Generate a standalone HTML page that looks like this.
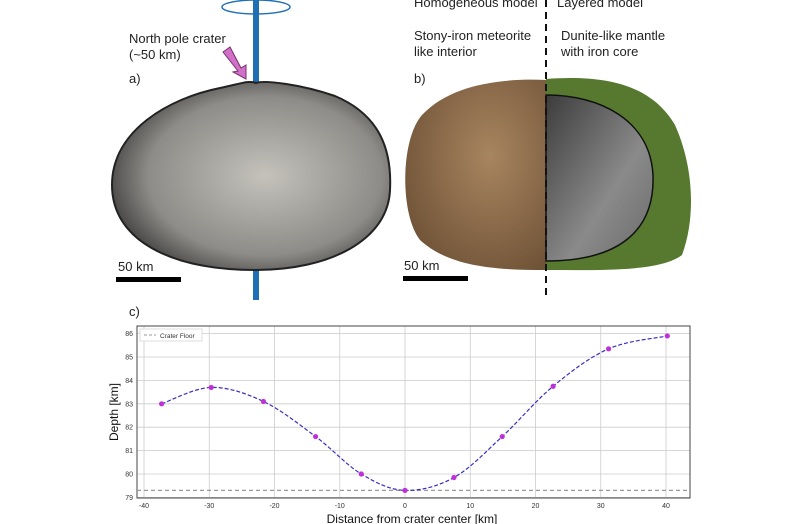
<!DOCTYPE html>
<html><head><meta charset="utf-8"><style>
body{margin:0;background:#fff;}
svg{display:block;font-family:"Liberation Sans",sans-serif;}
</style></head><body>
<svg id="fig" width="800" height="524" viewBox="0 0 800 524">
<defs>
<radialGradient id="gA" cx="0.55" cy="0.5" r="0.6"><stop offset="0" stop-color="#c4c2bb"/><stop offset="0.7" stop-color="#8e8c88"/><stop offset="1" stop-color="#3a3a3a"/></radialGradient>
<radialGradient id="gB" cx="0.6" cy="0.4" r="0.7"><stop offset="0" stop-color="#a88560"/><stop offset="1" stop-color="#6f5236"/></radialGradient>
<linearGradient id="gC" x1="0" y1="0" x2="1" y2="1"><stop offset="0" stop-color="#3c3c3c"/><stop offset="0.6" stop-color="#8a8a8a"/><stop offset="1" stop-color="#6a6a6a"/></linearGradient>
</defs>
<g>
<rect x="253" y="0" width="6" height="300" fill="#1f6fb5"/>
<path d="M112,185 C112,130 170,98 220,88 C240,84 248,80 256,83 C264,80 300,84 335,96 C380,115 392,150 390,190 C388,240 330,270 256,270 C170,270 112,240 112,185 Z" fill="url(#gA)" stroke="#222" stroke-width="2"/>
<ellipse cx="256" cy="7" rx="34" ry="7" fill="none" stroke="#1f6fb5" stroke-width="1.5"/>
<polygon points="223,52 230,47 241,68 246,65 246,79 233,72 238,71" fill="#d070c8" stroke="#7a3070" stroke-width="1"/>
<text x="129" y="43" font-size="13" fill="#222">North pole crater</text>
<text x="129" y="59" font-size="13" fill="#222">(~50 km)</text>
<text x="129" y="83" font-size="13" fill="#222">a)</text>
<text x="118" y="271" font-size="13" fill="#222">50 km</text>
<rect x="116" y="277" width="65" height="5" fill="#000"/>
</g>
<g>
<path d="M546,80 C500,78 450,85 422,115 C400,140 400,215 420,240 C450,268 500,270 546,270 Z" fill="url(#gB)"/>
<path d="M546,79 C600,75 650,82 675,125 C695,170 695,220 682,255 C660,272 600,270 546,270 Z" fill="#56792f"/>
<path d="M546,95 C600,95 650,120 653,175 C655,230 620,261 546,261 Z" fill="url(#gC)" stroke="#111" stroke-width="1.5"/>
<line x1="546" y1="0" x2="546" y2="300" stroke="#111" stroke-width="2" stroke-dasharray="7,5"/>
<text x="414" y="7" font-size="13" fill="#222">Homogeneous model</text>
<text x="557" y="7" font-size="13" fill="#222">Layered model</text>
<text x="414" y="40" font-size="13" fill="#222">Stony-iron meteorite</text>
<text x="414" y="56" font-size="13" fill="#222">like interior</text>
<text x="561" y="40" font-size="13" fill="#222">Dunite-like mantle</text>
<text x="561" y="56" font-size="13" fill="#222">with iron core</text>
<text x="414" y="83" font-size="13" fill="#222">b)</text>
<text x="404" y="270" font-size="13" fill="#222">50 km</text>
<rect x="403" y="276" width="65" height="5" fill="#000"/>
</g>
<text x="129" y="316" font-size="13" fill="#222">c)</text>
<g id="chart"></g>
</svg>
<script>
const xTicks=[-40,-30,-20,-10,0,10,20,30,40];
const yTicks=[79,80,81,82,83,84,85,86];
const distances=[-37.3,-29.7,-21.7,-13.7,-6.7,0,7.5,14.9,22.7,31.2,40.2];
const depths=[83.0,83.7,83.1,81.6,80.0,79.3,79.85,81.6,83.75,85.35,85.9];
const craterFloor=79.3;
const NS='http://www.w3.org/2000/svg';
const L=137,R=690,T=326,B=498;
const sx=v=>405+v*6.525;
const sy=v=>474-(v-80)*23.4;
const g=document.getElementById('chart');
function mk(t,a,p){const e=document.createElementNS(NS,t);for(const k in a)e.setAttribute(k,a[k]);(p||g).appendChild(e);return e;}
xTicks.forEach(v=>{
const l=mk('line',{x1:sx(v),x2:sx(v),y1:T,y2:B,stroke:'#ccc','stroke-width':0.8});


const t=mk('text',{x:sx(v),y:B+10,'font-size':7,'text-anchor':'middle',fill:'#333'});t.textContent=v;


});
yTicks.forEach(v=>{
const l=mk('line',{x1:L,x2:R,y1:sy(v),y2:sy(v),stroke:'#ccc','stroke-width':0.8});


const t=mk('text',{x:L-4,y:sy(v)+2.5,'font-size':7,'text-anchor':'end',fill:'#333'});t.textContent=v;


});
const fr=mk('rect',{x:L,y:T,width:R-L,height:B-T,fill:'none',stroke:'#444','stroke-width':1});


const fl=mk('line',{x1:L,x2:R,y1:sy(craterFloor),y2:sy(craterFloor),stroke:'#999','stroke-width':1.2,'stroke-dasharray':'4,3'});


const P=distances.map((d,i)=>[sx(d),sy(depths[i])]);
let d='M'+P[0][0]+','+P[0][1];
for(let i=0;i<P.length-1;i++){const p0=P[i-1]||P[i],p1=P[i],p2=P[i+1],p3=P[i+2]||P[i+1];
d+=' C'+(p1[0]+(p2[0]-p0[0])/6)+','+(p1[1]+(p2[1]-p0[1])/6)+' '+(p2[0]-(p3[0]-p1[0])/6)+','+(p2[1]-(p3[1]-p1[1])/6)+' '+p2[0]+','+p2[1];}
const cv=mk('path',{d:d,fill:'none',stroke:'#3a2fc0','stroke-width':1.2,'stroke-dasharray':'4,2'});


P.forEach(p=>{const c=mk('circle',{cx:p[0],cy:p[1],r:2.6,fill:'#c030d8'});

});
const lg=mk('rect',{x:140,y:329,width:62,height:12,fill:'#fff',stroke:'#ddd'});


const ll=mk('line',{x1:144,x2:156,y1:335,y2:335,stroke:'#999','stroke-dasharray':'3,2'});


const lt=mk('text',{x:160,y:338,'font-size':6.5,fill:'#333'});lt.textContent='Crater Floor';


const xt=mk('text',{x:412,y:523,'font-size':12,'text-anchor':'middle',fill:'#111'});xt.textContent='Distance from crater center [km]';


const yt=mk('text',{x:0,y:0,'font-size':12,'text-anchor':'middle',fill:'#111',transform:'translate(118,412) rotate(-90)'});yt.textContent='Depth [km]';


</script>
</body></html>
